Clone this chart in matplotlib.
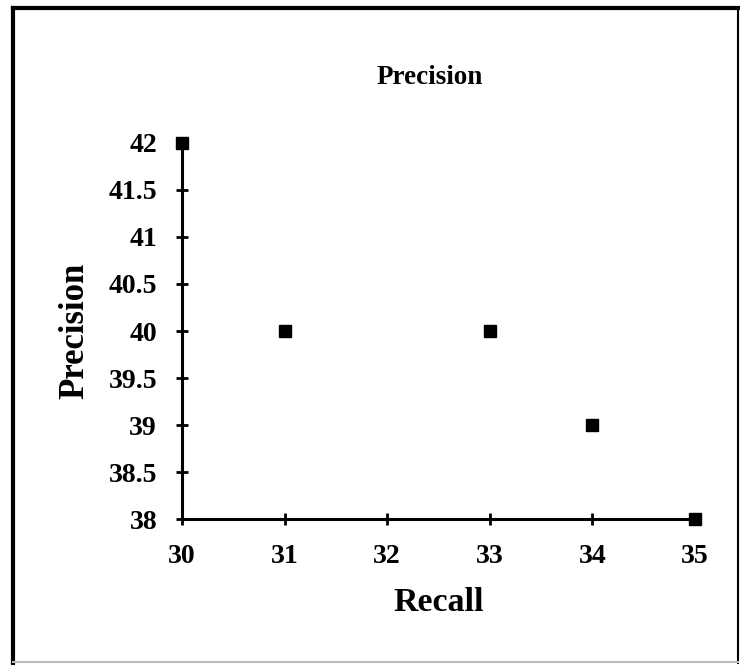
import matplotlib.pyplot as plt
from matplotlib.lines import Line2D

# 数据
recall = [30, 31, 33, 34, 35]
precision = [42, 40, 40, 39, 38]
xticks = [30, 31, 32, 33, 34, 35]
yticks = [38, 38.5, 39, 39.5, 40, 40.5, 41, 41.5, 42]
ytick_labels = ['38', '38.5', '39', '39.5', '40', '40.5', '41', '41.5', '42']

plt.rcParams['font.family'] = ['Liberation Serif', 'DejaVu Serif']
plt.rcParams['font.weight'] = 'bold'

fig = plt.figure(figsize=(7.4, 6.65), dpi=100)
ax = fig.add_axes([0.246, 0.2195, 0.693, 0.5655])

ax.plot(recall, precision, 's', color='black', markersize=8.5, clip_on=False, zorder=5)

ax.set_xlim(30, 35)
ax.set_ylim(38, 42)
ax.set_xticks(xticks)
ax.set_yticks(yticks)
ax.set_yticklabels(ytick_labels)
ax.tick_params(direction='inout', length=8, width=2, labelsize=20)
ax.tick_params(axis='x', pad=14)
ax.tick_params(axis='y', pad=14)
for lab in ax.get_xticklabels() + ax.get_yticklabels():
    lab.set_fontweight('bold')

for s in ['top', 'right']:
    ax.spines[s].set_visible(False)
for s in ['left', 'bottom']:
    ax.spines[s].set_linewidth(2.2)

ax.set_xlabel('Recall', fontsize=24.5, fontweight='bold', labelpad=13)
ax.set_ylabel('Precision', fontsize=25, fontweight='bold', labelpad=12)
fig.text(0.581, 0.884, 'Precision', fontsize=19.5, fontweight='bold', ha='center', va='center')

# 外框
fig.add_artist(Line2D([0.018, 0.018], [0.003, 0.988], color='black', lw=3, transform=fig.transFigure))
fig.add_artist(Line2D([0.018, 0.997], [0.988, 0.988], color='black', lw=3, transform=fig.transFigure))
fig.add_artist(Line2D([0.997, 0.997], [0.003, 0.988], color='black', lw=1.5, transform=fig.transFigure))
fig.add_artist(Line2D([0.018, 0.997], [0.004, 0.004], color='#bbbbbb', lw=1.5, transform=fig.transFigure))

plt.savefig('out.png', dpi=100)
